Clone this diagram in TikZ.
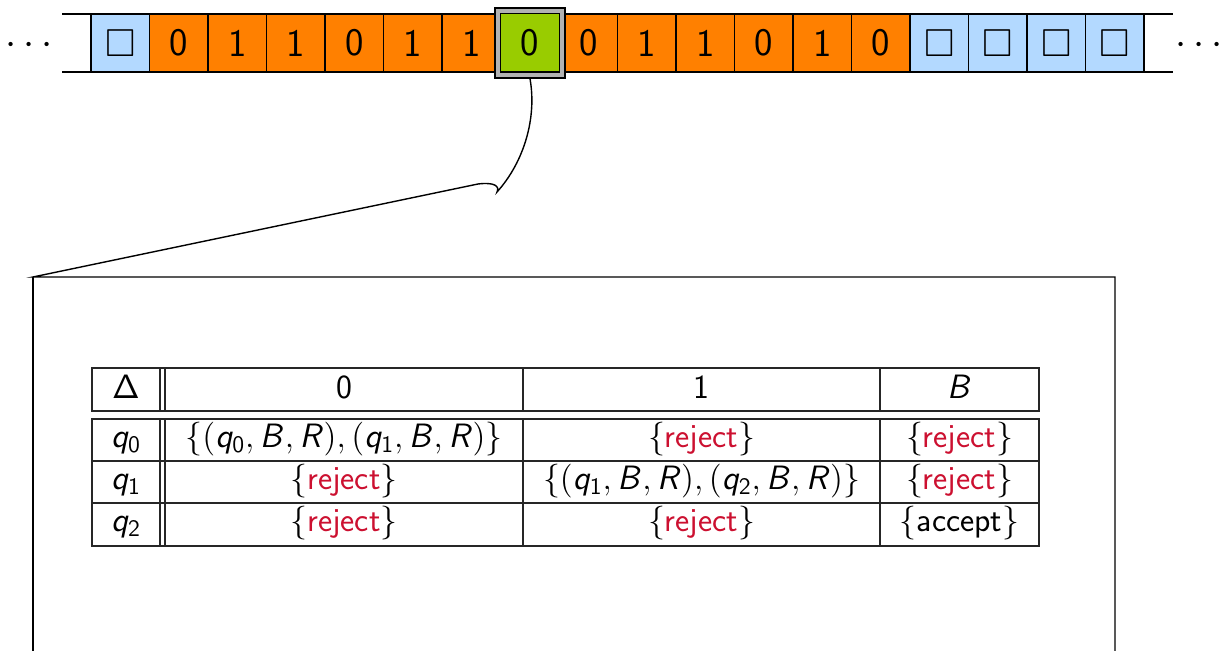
\RequirePackage{fix-cm}
\documentclass[tikz,border=0pt]{standalone}
\usepackage{amssymb}
\definecolor{tapeorange}{RGB}{255,128,0}
\definecolor{tapeblue}{RGB}{179,217,255}
\definecolor{tapegreen}{RGB}{153,204,0}
\definecolor{framegray}{RGB}{178,178,178}
\definecolor{alertred}{RGB}{204,16,48}
\DeclareMathAlphabet{\mathsfit}{OT1}{cmss}{m}{sl}
\newcommand{\stq}[1]{\mathsfit{q}_{\mathsf{#1}}}
\newcommand{\trpair}[1]{(\stq{#1},\mathsfit{B},\mathsfit{R})}
\newcommand{\rej}{$\{$\textcolor{alertred}{reject}$\}$}
\begin{document}
\begin{tikzpicture}[x=0.5pt,y=-0.5pt,
  tapecell/.style={draw, line width=0.6pt, minimum width=29.25pt, minimum height=29pt,
    inner sep=0pt, font=\sffamily\fontsize{19.5}{20}\selectfont},
  dots/.style={font=\fontsize{20}{20}\selectfont, inner sep=0pt, anchor=base},
  tbl/.style={font=\sffamily\fontsize{16.9}{18}\selectfont, inner sep=0pt, anchor=base},
  rule/.style={line width=0.75pt, black!85},
  callout/.style={line width=0.7pt}]
\useasboundingbox (0,0) rectangle (1224,651);
\clip (0,0) rectangle (1224,651);
% tape
\draw[line width=0.75pt] (62,14) -- (1173,14) (62,72) -- (1173,72);
\foreach \i/\c/\s in {0/tapeblue/$\square$,1/tapeorange/0,2/tapeorange/1,3/tapeorange/1,
  4/tapeorange/0,5/tapeorange/1,6/tapeorange/1,8/tapeorange/0,9/tapeorange/1,
  10/tapeorange/1,11/tapeorange/0,12/tapeorange/1,13/tapeorange/0,14/tapeblue/$\square$,
  15/tapeblue/$\square$,16/tapeblue/$\square$,17/tapeblue/$\square$}
  \node[tapecell, fill=\c] (c\i) at ({91+58.5*(\i+0.5)},43) {\s};
\node[draw, fill=framegray, line width=0.75pt, minimum width=35pt, minimum height=35pt,
  inner sep=0pt] (frame) at (530,43) {};
\node[tapecell, fill=tapegreen, line width=0.75pt, minimum width=29.6pt, minimum height=29.3pt]
  (head) at (530,42.8) {0};
\node[dots] (ldots) at (29,54.5) {$\cdots$};
\node[dots] (rdots) at (1199,54.5) {$\cdots$};
% callout
\coordinate (tip) at (497,192);
\coordinate (boxNW) at (33,277);
\coordinate (boxNE) at (1115,277);
\draw[callout] (frame.south) .. controls (537,118) and (524,162) .. (tip)
  .. controls (500,186) and (494,182) .. (478,184) -- (boxNW) -- (boxNE) -- (1115,700);
\draw[callout] (boxNW) -- (33,700);
% table frame
\draw[rule] (92,368) rectangle (1039,411);
\draw[rule] (92,419) rectangle (1039,546);
\draw[rule] (92,461) -- (1039,461) (92,503) -- (1039,503);
\foreach \x in {160,165,523,880} {
  \draw[rule] (\x,368) -- (\x,411);
  \draw[rule] (\x,419) -- (\x,546);
}
% table text
\node[tbl] (hD) at (126,399) {$\mathsf{\Delta}$};
\node[tbl] (h0) at (344,399) {0};
\node[tbl] (h1) at (701.5,399) {1};
\node[tbl] (hB) at (959.5,399) {$\mathsfit{B}$};
\node[tbl] (r0) at (126,447.5) {$\stq{0}$};
\node[tbl] (r1) at (126,489.5) {$\stq{1}$};
\node[tbl] (r2) at (126,531.5) {$\stq{2}$};
\node[tbl] (a00) at (344,447.5) {$\{\trpair{0},\trpair{1}\}$};
\node[tbl] (a01) at (701.5,447.5) {\rej};
\node[tbl] (a0B) at (959.5,447.5) {\rej};
\node[tbl] (a10) at (344,489.5) {\rej};
\node[tbl] (a11) at (701.5,489.5) {$\{\trpair{1},\trpair{2}\}$};
\node[tbl] (a1B) at (959.5,489.5) {\rej};
\node[tbl] (a20) at (344,531.5) {\rej};
\node[tbl] (a21) at (701.5,531.5) {\rej};
\node[tbl] (a2B) at (959.5,531.5) {$\{$accept$\}$};
\end{tikzpicture}
\end{document}
